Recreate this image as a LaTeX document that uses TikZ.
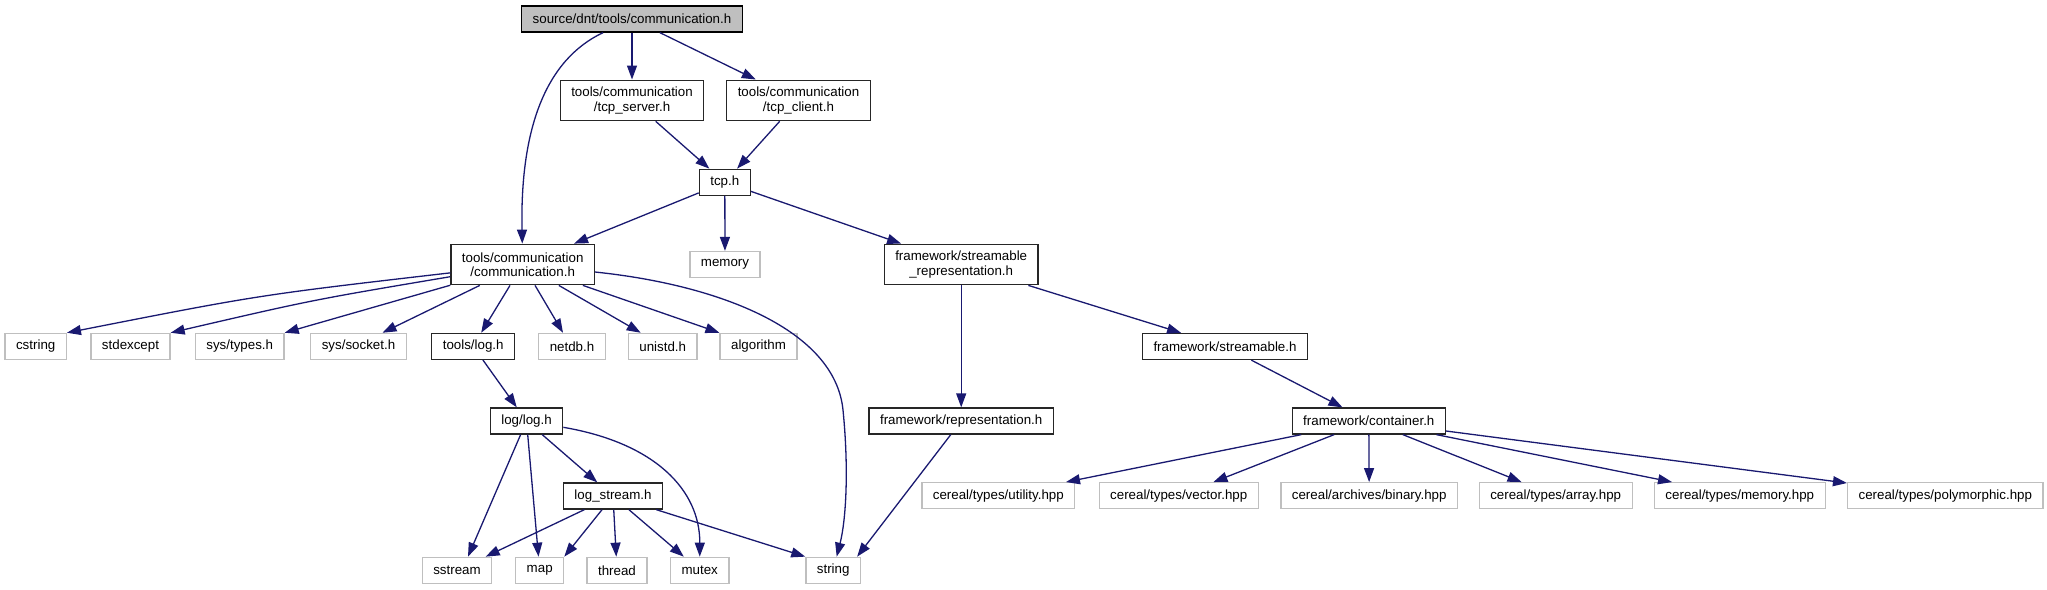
\documentclass[tikz,border=0pt]{standalone}
\usepackage{fontspec}
\setmainfont{Liberation Sans}
\usepackage{tikz}
\usetikzlibrary{arrows.meta}
\definecolor{midnight}{HTML}{191970}
\definecolor{grey75}{HTML}{BFBFBF}

\begin{document}
\begin{tikzpicture}[
            x=1pt, y=-1pt,
            hdr/.style={rectangle,draw=black!85,line width=1.3pt,fill=white,inner xsep=11pt,inner ysep=2pt,
                minimum height=26pt,align=center,font=\fontsize{13.33}{14.4}\selectfont},
            twoline/.style={minimum height=40.5pt},
            mainhdr/.style={hdr,fill=grey75,draw=black},
            syshdr/.style={hdr,draw=grey75},
            dep/.style={draw=midnight,line width=1.3pt,-{Triangle[length=14pt,width=10pt]}},
        ]
            \useasboundingbox (0,0) rectangle (2047,589);

            %--- Nodes ---%
            \node[mainhdr] (root) at (632,19) {source/dnt/tools/communication.h};
            \node[hdr,twoline] (srv) at (632,100.4) {tools/communication\\/tcp\_server.h};
            \node[hdr,twoline] (cli) at (798.5,100.4) {tools/communication\\/tcp\_client.h};
            \node[hdr] (tcp) at (724.8,182.3) {tcp.h};
            \node[hdr,twoline] (comm) at (522.7,264.5) {tools/communication\\/communication.h};
            \node[syshdr] (memory) at (725,264.5) {memory};
            \node[hdr,twoline] (sr) at (961.2,264.5) {framework/streamable\\\_representation.h};

            \node[syshdr] (cstring) at (35.7,346.4) {cstring};
            \node[syshdr] (stdexcept) at (130.5,346.4) {stdexcept};
            \node[syshdr] (systypes) at (239.7,346.4) {sys/types.h};
            \node[syshdr] (syssocket) at (358.5,346.4) {sys/socket.h};
            \node[hdr] (toolslog) at (473.2,346.4) {tools/log.h};
            \node[syshdr] (netdb) at (572,346.4) {netdb.h};
            \node[syshdr] (unistd) at (662.7,346.4) {unistd.h};
            \node[syshdr] (algorithm) at (758.5,346.4) {algorithm};
            \node[hdr] (streamable) at (1225,346.5) {framework/streamable.h};

            \node[hdr] (loglog) at (526.5,421) {log/log.h};
            \node[hdr] (rep) at (961.2,421) {framework/representation.h};
            \node[hdr] (container) at (1368.8,421) {framework/container.h};

            \node[hdr] (logstream) at (613,496) {log\_stream.h};
            \node[syshdr] (utility) at (998.3,495.7) {cereal/types/utility.hpp};
            \node[syshdr] (vector) at (1178.7,495.7) {cereal/types/vector.hpp};
            \node[syshdr] (binary) at (1369.2,495.7) {cereal/archives/binary.hpp};
            \node[syshdr] (array) at (1555.7,495.7) {cereal/types/array.hpp};
            \node[syshdr] (cmemory) at (1739.8,495.7) {cereal/types/memory.hpp};
            \node[syshdr] (poly) at (1945.3,495.7) {cereal/types/polymorphic.hpp};

            \node[syshdr] (sstream) at (457,570.3) {sstream};
            \node[syshdr] (map) at (539.7,570.3) {map};
            \node[syshdr] (thread) at (617,570.3) {thread};
            \node[syshdr] (mutex) at (699.7,570.3) {mutex};
            \node[syshdr] (string) at (833.2,570.3) {string};

            %--- Include edges ---%
            \draw[dep] (root) .. controls (545,60) and (520,130) .. (comm);
            \draw[dep] (root) -- (srv);
            \draw[dep] (root) -- (cli);
            \draw[dep] (srv) -- (tcp);
            \draw[dep] (cli) -- (tcp);
            \draw[dep] (tcp) -- (comm);
            \draw[dep] (tcp) -- (memory);
            \draw[dep] (tcp) -- (sr);

            %--- communication.h ---%
            \draw[dep] (comm) .. controls (259,295) .. (cstring.north east);
            \draw[dep] (comm) .. controls (312,300) .. (stdexcept.north east);
            \draw[dep] (comm) -- (systypes.north east);
            \draw[dep] (comm) -- ([xshift=24pt]syssocket.north);
            \draw[dep] (comm) -- ([xshift=8pt]toolslog.north);
            \draw[dep] (comm) -- ([xshift=-9pt]netdb.north);
            \draw[dep] (comm) -- ([xshift=-22pt]unistd.north);
            \draw[dep] (comm) -- (algorithm.north west);
            \draw[dep] (comm) .. controls (720,285) and (835,330) .. (843,410)
                .. controls (849,470) and (846,520) .. (string);

            %--- logging ---%
            \draw[dep] (toolslog) -- (loglog);
            \draw[dep] (loglog) -- ([xshift=11pt]sstream.north);
            \draw[dep] (loglog) -- (map);
            \draw[dep] (loglog) -- (logstream);
            \draw[dep] (loglog) .. controls (655,443) and (700,490) .. (mutex);
            \draw[dep] (logstream) -- (sstream);
            \draw[dep] (logstream) -- (map.north east);
            \draw[dep] (logstream) -- (thread);
            \draw[dep] (logstream) -- (mutex);
            \draw[dep] (logstream) -- (string.north west);

            %--- framework ---%
            \draw[dep] (sr) -- (rep);
            \draw[dep] (sr) -- (streamable);
            \draw[dep] (rep) -- ([xshift=-4pt]string.north east);
            \draw[dep] (streamable) -- (container);
            \draw[dep] (container) -- (utility);
            \draw[dep] (container) -- (vector);
            \draw[dep] (container) -- (binary);
            \draw[dep] (container) -- (array);
            \draw[dep] (container) -- (cmemory);
            \draw[dep] (container) -- (poly);

        \end{tikzpicture}
\end{document}
